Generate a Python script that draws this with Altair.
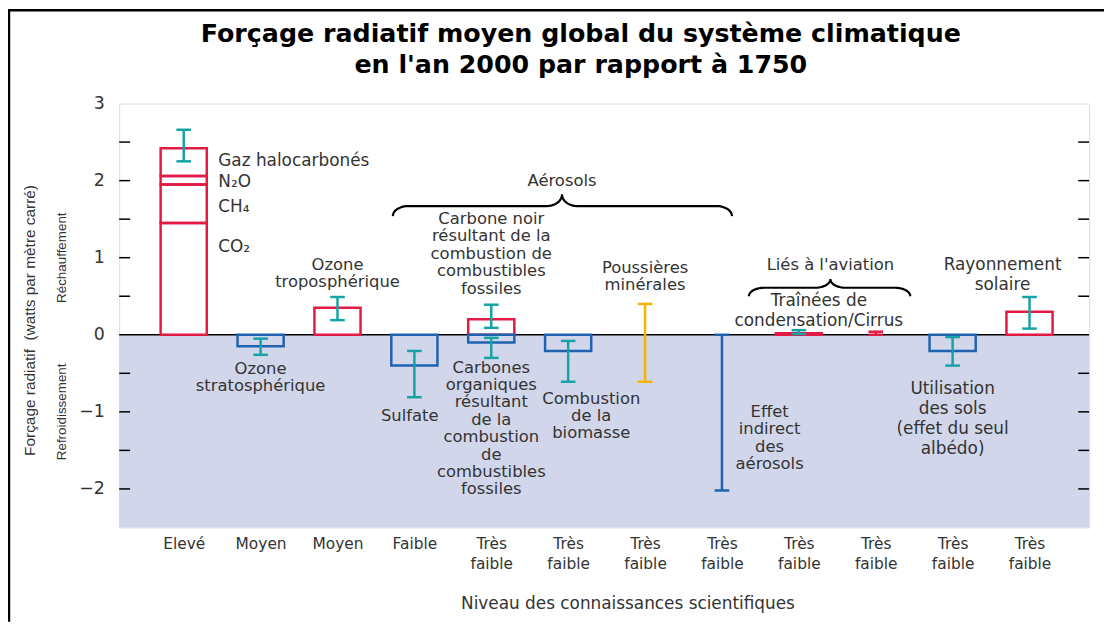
import json
import altair as alt
import numpy as np
import pandas as pd

# ---------------- data ----------------
levels = ["Elevé", "Moyen", "Moyen", "Faible", "Très faible", "Très faible",
          "Très faible", "Très faible", "Très faible", "Très faible",
          "Très faible", "Très faible"]

ghg_names = ["CO₂", "CH₄", "N₂O", "Gaz halocarbonés"]
ghg_values = [1.45, 0.50, 0.11, 0.36]

box_slot = [1, 2, 3, 4, 4, 5, 8, 10, 11]
box_value = [-0.15, 0.35, -0.40, 0.20, -0.10, -0.21, 0.02, -0.21, 0.30]

err_slot = [0, 1, 2, 3, 4, 4, 5, 6, 7, 8, 9, 10, 11]
err_low = [2.25, -0.26, 0.19, -0.81, 0.09, -0.30, -0.61, -0.61, -2.02, 0.01, 0.00, -0.40, 0.08]
err_high = [2.66, -0.05, 0.49, -0.21, 0.39, -0.04, -0.08, 0.40, 0.00, 0.06, 0.04, -0.03, 0.49]
err_kind = ["unc", "unc", "unc", "unc", "unc", "unc", "unc", "dust", "indirect",
            "unc", "cirrus", "unc", "unc"]

y_label_values = [-2, -1, 0, 1, 2, 3]
minor_ticks = [-2.0, -1.5, -1.0, -0.5, 0.5, 1.0, 1.5, 2.0, 2.5]

title_lines = "Forçage radiatif moyen global du système climatique\nen l'an 2000 par rapport à 1750"

# annotations (slot position, value position of first line)
ghg_lab_text = ["Gaz halocarbonés", "N₂O", "CH₄", "CO₂"]
ghg_lab_x = [0.45, 0.45, 0.45, 0.45]
ghg_lab_y = [2.25, 1.98, 1.66, 1.14]

ann_a_text = ["Ozone\ntroposphérique", "Ozone\nstratosphérique", "Sulfate",
              "Carbone noir\nrésultant de la\ncombustion de\ncombustibles\nfossiles",
              "Carbones\norganiques\nrésultant\nde la\ncombustion\nde\ncombustibles\nfossiles",
              "Combustion\nde la\nbiomasse", "Poussières\nminérales",
              "Effet\nindirect\ndes\naérosols", "Aérosols", "Liés à l'aviation"]
ann_a_x = [2.0, 1.0, 2.94, 4.0, 4.0, 5.3, 6.0, 7.62, 4.92, 8.41]
ann_a_y = [0.906, -0.44, -1.05, 1.50, -0.427, -0.83, 0.867, -1.0, 1.99, 0.905]

ann_b_text = ["Traînées de\ncondensation/Cirrus", "Rayonnement\nsolaire",
              "Utilisation\ndes sols\n(effet du seul\nalbédo)"]
ann_b_x = [8.26, 10.65, 10.0]
ann_b_y = [0.44, 0.906, -0.71]

# ---------------- styles ----------------
W, H = 977, 427
RED, BLUE, TEAL, ORANGE = "#e31a44", "#1f63b0", "#15a3a6", "#f4b400"
BG = "#d1d6ea"
TXT = "#333333"
FONT = "DejaVu Sans"
HALF = 0.3
CAP = 0.095

xscale = alt.Scale(domain=[-0.839, 11.775], nice=False, zero=False)
yscale = alt.Scale(domain=[-2.5, 3], nice=False, zero=False)

x_label_expr = "split(" + json.dumps(levels, ensure_ascii=False) + "[datum.value], ' ')"

xaxis = alt.Axis(values=list(range(12)), labelExpr=x_label_expr,
                 title="Niveau des connaissances scientifiques",
                 titleX=512, titleY=77, titleBaseline="middle", titleAlign="center",
                 titleFont=FONT, titleFontSize=17, titleFontWeight="normal", titleColor=TXT,
                 labelFont=FONT, labelFontSize=15.5, labelColor=TXT, labelLineHeight=20,
                 labelPadding=9, labelOverlap=False, labelFlush=False, labelBound=False,
                 ticks=False, domain=False, grid=False)
yaxis = alt.Axis(values=y_label_values,
                 labelExpr="datum.value < 0 ? '\u2212' + abs(datum.value) : '' + datum.value",
                 title="Forçage radiatif\u00a0 (watts par mètre carré)",
                 titleX=-90, titleY=218, titleAngle=270, titleAlign="center",
                 titleBaseline="middle", titleFont="Liberation Sans", titleFontSize=15.5,
                 titleFontWeight="normal", titleColor=TXT,
                 labelFont=FONT, labelFontSize=17.5, labelColor=TXT, labelPadding=15,
                 labelFlush=False, ticks=False, domain=False, grid=False)


def X(f):
    return alt.X(f, type="quantitative", scale=xscale, axis=xaxis)


def Y(f):
    return alt.Y(f, type="quantitative", scale=yscale, axis=yaxis)


kind_scale = alt.Scale(domain=["unc", "dust", "indirect", "cirrus", "pos", "neg"],
                       range=[TEAL, ORANGE, BLUE, RED, RED, BLUE])

# ---------------- tables ----------------
ghg_top = np.cumsum(ghg_values)
ghg_df = pd.DataFrame({"name": ghg_names, "slot": 0,
                       "lo": np.concatenate([[0], ghg_top[:-1]]), "hi": ghg_top})
box_df = pd.DataFrame({"slot": box_slot, "v": box_value})
box_df["kind"] = np.where(box_df["v"] > 0, "pos", "neg")
err_df = pd.DataFrame({"slot": err_slot, "lo": err_low, "hi": err_high, "kind": err_kind})
tick_df = pd.DataFrame({"t": minor_ticks})
bg_df = pd.DataFrame({"a": [0.0], "b": [-2.5]})


def brace(bid, x0, x1, xm, ytip, yline, ypeak, r=0.2, n=10):
    t = np.linspace(0, np.pi / 2, n)
    pts = []
    pts += [(x0 + r - r * np.cos(a), ytip + (yline - ytip) * np.sin(a)) for a in t]
    pts += [(xm - r + r * np.sin(a), yline + (ypeak - yline) * (1 - np.cos(a))) for a in t]
    pts += [(xm + r - r * np.sin(a), yline + (ypeak - yline) * (1 - np.cos(a))) for a in t[::-1]]
    pts += [(x1 - r + r * np.cos(a), ytip + (yline - ytip) * np.sin(a)) for a in t[::-1]]
    return pd.DataFrame({"b": bid, "o": range(len(pts)),
                         "x": [p[0] for p in pts], "y": [p[1] for p in pts]})


brace_df = pd.concat([brace("aer", 2.72, 7.13, 4.92, 1.54, 1.67, 1.82),
                      brace("avi", 7.35, 9.45, 8.41, 0.50, 0.61, 0.72)])

ghg_lab_df = pd.DataFrame({"text": ghg_lab_text, "x": ghg_lab_x, "y": ghg_lab_y})
ann_a_df = pd.DataFrame({"text": ann_a_text, "x": ann_a_x, "y": ann_a_y})
ann_b_df = pd.DataFrame({"text": ann_b_text, "x": ann_b_x, "y": ann_b_y})
side_df = pd.DataFrame({"text": ["Réchauffement", "Refroidissement"], "y": [1.0, -1.0]})
title_df = pd.DataFrame({"text": [title_lines]})

# ---------------- layers ----------------
bg = alt.Chart(bg_df).mark_rect(fill=BG).encode(
    x=alt.value(0), x2=alt.value(W), y=Y("a"), y2=alt.Y2("b"))

zero = alt.Chart(bg_df).mark_rule(color="black", strokeWidth=1.5).encode(
    x=alt.value(0), x2=alt.value(W), y=Y("a"))

ticks_l = alt.Chart(tick_df).mark_rule(color="black", strokeWidth=1.5).encode(
    x=alt.value(0), x2=alt.value(11), y=Y("t"))
ticks_r = alt.Chart(tick_df).mark_rule(color="black", strokeWidth=1.5).encode(
    x=alt.value(W - 11), x2=alt.value(W), y=Y("t"))

ghg = alt.Chart(ghg_df).transform_calculate(
    x0=f"datum.slot - {HALF}", x1=f"datum.slot + {HALF}").mark_rect(
    fill="transparent", stroke=RED, strokeWidth=2.5).encode(
    x=X("x0"), x2=alt.X2("x1"), y=Y("lo"), y2=alt.Y2("hi"))

boxes = alt.Chart(box_df).transform_calculate(
    x0=f"datum.slot - {HALF}", x1=f"datum.slot + {HALF}", z="0").mark_rect(
    fill="transparent", strokeWidth=2.5).encode(
    x=X("x0"), x2=alt.X2("x1"), y=Y("z"), y2=alt.Y2("v"),
    stroke=alt.Stroke("kind:N", scale=kind_scale, legend=None))

err_line = alt.Chart(err_df).mark_rule(strokeWidth=2.5).encode(
    x=X("slot"), y=Y("lo"), y2=alt.Y2("hi"),
    color=alt.Color("kind:N", scale=kind_scale, legend=None))

err_caps = alt.Chart(err_df).transform_fold(["lo", "hi"], as_=["end", "val"]).transform_calculate(
    x0=f"datum.slot - {CAP}", x1=f"datum.slot + {CAP}").mark_rule(strokeWidth=2.5).encode(
    x=X("x0"), x2=alt.X2("x1"), y=Y("val:Q"),
    color=alt.Color("kind:N", scale=kind_scale, legend=None))

braces = alt.Chart(brace_df).mark_line(color="black", strokeWidth=2.2).encode(
    x=X("x"), y=Y("y"), detail="b:N", order="o:Q")

ghg_labels = alt.Chart(ghg_lab_df).mark_text(
    font=FONT, fontSize=17, color=TXT, align="left", baseline="middle").encode(
    x=X("x"), y=Y("y"), text="text:N")

ann_a = alt.Chart(ann_a_df).mark_text(
    font=FONT, fontSize=16.5, color=TXT, align="center", baseline="middle",
    lineBreak="\n", lineHeight=17.5).encode(x=X("x"), y=Y("y"), text="text:N")

ann_b = alt.Chart(ann_b_df).mark_text(
    font=FONT, fontSize=17, color=TXT, align="center", baseline="middle",
    lineBreak="\n", lineHeight=20).encode(x=X("x"), y=Y("y"), text="text:N")

side = alt.Chart(side_df).mark_text(
    font="Liberation Sans", fontSize=13.5, color=TXT, angle=270,
    align="center", baseline="middle").encode(x=alt.value(-58), y=Y("y"), text="text:N")

title = alt.Chart(title_df).mark_text(
    font=FONT, fontSize=25.5, fontWeight="bold", color="black", align="center",
    baseline="middle", lineBreak="\n", lineHeight=31).encode(
    x=alt.value(465), y=alt.value(-70), text="text:N")

frame_top = alt.Chart(bg_df).mark_rule(color="black", strokeWidth=2.5).encode(
    x=alt.value(-112), x2=alt.value(W + 15), y=alt.value(-94))
frame_left = alt.Chart(bg_df).mark_rule(color="black", strokeWidth=2.5).encode(
    x=alt.value(-111), y=alt.value(-94), y2=alt.value(H + 95))

chart = alt.layer(
    bg, zero, ticks_l, ticks_r, ghg, boxes, err_line, err_caps, braces,
    ghg_labels, ann_a, ann_b, side, title, frame_top, frame_left
).properties(
    width=W, height=H,
    autosize=alt.AutoSizeParams(type="none"),
    padding={"left": 112, "top": 94, "right": 15, "bottom": 95},
).configure_view(stroke="black", strokeWidth=1.5).configure(background="white")

chart.save("out.html", embed_options={"renderer": "svg", "actions": False})
